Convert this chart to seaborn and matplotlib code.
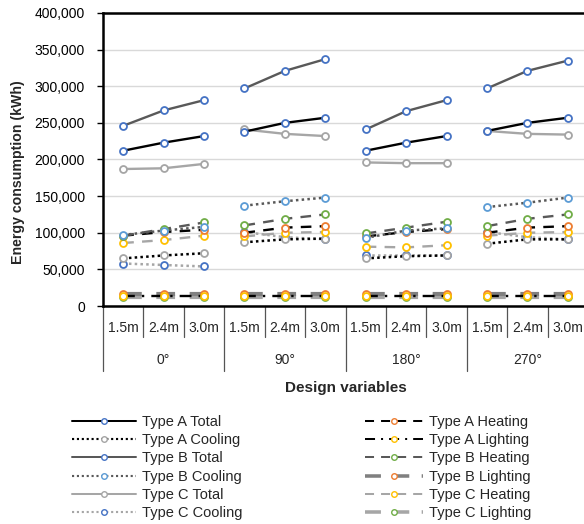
import matplotlib

matplotlib.use("Agg")
import matplotlib.pyplot as plt
import matplotlib.transforms as mtransforms
import pandas as pd
import seaborn as sns
from matplotlib.lines import Line2D
from matplotlib.ticker import FuncFormatter

# ================================================================
# 0. Data
# ================================================================
heights = ["1.5m", "2.4m", "3.0m"]
orientations = ["0°", "90°", "180°", "270°"]

a_total = [212000, 223000, 232000, 238000, 250000, 257000, 212000, 223000, 232000, 239000, 250000, 257000]
a_cooling = [65000, 69000, 72000, 87000, 91000, 92000, 65000, 68000, 69000, 85000, 91000, 91000]
b_total = [246000, 267000, 281000, 297000, 321000, 337000, 241000, 266000, 281000, 297000, 321000, 335000]
b_cooling = [97000, 103000, 108000, 137000, 143000, 148000, 93000, 103000, 106000, 135000, 141000, 148000]
c_total = [187000, 188000, 194000, 241000, 235000, 232000, 196000, 195000, 195000, 239000, 235000, 234000]
c_cooling = [58000, 56000, 54000, 101000, 94000, 91000, 70000, 70000, 70000, 101000, 94000, 91000]
a_heating = [96000, 101000, 104000, 100000, 107000, 109000, 95000, 101000, 105000, 100000, 107000, 109000]
a_lighting = [14000, 14000, 14000, 14000, 14000, 14000, 14000, 14000, 14000, 14000, 14000, 14000]
b_heating = [96000, 105000, 114000, 110000, 119000, 125000, 99000, 107000, 115000, 109000, 119000, 125000]
b_lighting = [17000, 17000, 17000, 17000, 17000, 17000, 17000, 17000, 17000, 17000, 17000, 17000]
c_heating = [86000, 90000, 96000, 95000, 100000, 101000, 81000, 80000, 83000, 96000, 100000, 101000]
c_lighting = [12000, 12000, 12000, 12000, 12000, 12000, 12000, 12000, 12000, 12000, 12000, 12000]

series_values = {
    "Type A Total": a_total,
    "Type A Cooling": a_cooling,
    "Type B Total": b_total,
    "Type B Cooling": b_cooling,
    "Type C Total": c_total,
    "Type C Cooling": c_cooling,
    "Type A Heating": a_heating,
    "Type A Lighting": a_lighting,
    "Type B Heating": b_heating,
    "Type B Lighting": b_lighting,
    "Type C Heating": c_heating,
    "Type C Lighting": c_lighting,
}

# ================================================================
# 1. Styles
# ================================================================
BLACK, DGREY, LGREY, MGREY = "#000000", "#595959", "#a6a6a6", "#808080"
BLUE, LBLUE, GREY, ORANGE, YELLOW, GREEN = "#4472c4", "#5b9bd5", "#a5a5a5", "#ed7d31", "#ffc000", "#70ad47"

DOT = (0, (1, 1.3))
DASH = (0, (4.5, 3.5))
DASHDOT = (0, (5, 3, 1, 3))
THICK = (0, (4.5, 3.5))

styles = {
    "Type A Total": dict(color=BLACK, ls="-", lw=1.7, mec=BLUE),
    "Type A Cooling": dict(color=BLACK, ls=DOT, lw=1.8, mec=GREY),
    "Type B Total": dict(color=DGREY, ls="-", lw=1.7, mec=BLUE),
    "Type B Cooling": dict(color=DGREY, ls=DOT, lw=1.8, mec=LBLUE),
    "Type C Total": dict(color=LGREY, ls="-", lw=1.7, mec=GREY),
    "Type C Cooling": dict(color=LGREY, ls=DOT, lw=1.8, mec=BLUE),
    "Type A Heating": dict(color=BLACK, ls=DASH, lw=1.7, mec=ORANGE),
    "Type A Lighting": dict(color=BLACK, ls=DASHDOT, lw=1.7, mec=YELLOW),
    "Type B Heating": dict(color=DGREY, ls=DASH, lw=1.7, mec=GREEN),
    "Type B Lighting": dict(color=MGREY, ls=THICK, lw=3.0, mec=ORANGE),
    "Type C Heating": dict(color=LGREY, ls=DASH, lw=1.7, mec=YELLOW),
    "Type C Lighting": dict(color=LGREY, ls=THICK, lw=3.0, mec=GREEN),
}

# ================================================================
# 2. Long table
# ================================================================
rows = []
for name, vals in series_values.items():
    for i, v in enumerate(vals):
        rows.append({"series": name, "pos": i, "group": orientations[i // 3], "value": v})
df = pd.DataFrame(rows)

# ================================================================
# 3. Plot
# ================================================================
sns.set_style("white")
plt.rcParams["font.family"] = ["Liberation Sans", "DejaVu Sans"]

W, H = 584, 524
fig = plt.figure(figsize=(W / 100, H / 100), dpi=100)
ax = fig.add_axes([103 / W, 1 - 306 / H, 485 / W, 293 / H])

draw_order = [
    "Type C Lighting", "Type B Lighting", "Type A Lighting",
    "Type C Cooling", "Type A Cooling", "Type C Heating", "Type A Heating",
    "Type B Heating", "Type B Cooling",
    "Type C Total", "Type A Total", "Type B Total",
]
for name in draw_order:
    st = styles[name]
    sns.lineplot(
        data=df[df["series"] == name], x="pos", y="value", units="group", estimator=None,
        sort=False, ax=ax, legend=False, color=st["color"], linestyle=st["ls"], linewidth=st["lw"],
        marker="o", markersize=5, markerfacecolor="white", markeredgecolor=st["mec"],
        markeredgewidth=1.3, dash_capstyle="butt",
    )

ax.set_xlim(-0.5, 11.5)
ax.set_ylim(0, 400000)
ax.set_yticks(range(0, 400001, 50000))
ax.yaxis.set_major_formatter(FuncFormatter(lambda v, p: f"{int(v):,}"))
ax.tick_params(axis="y", left=True, length=4, width=1, pad=9, labelsize=10, colors="#000000")
ax.set_xticks([])
ax.set_xlabel("")
ax.set_ylabel("")
ax.grid(axis="y", color="#d9d9d9", lw=1)
ax.set_axisbelow(True)

for side in ["left", "bottom", "top"]:
    ax.spines[side].set_color("black")
    ax.spines[side].set_linewidth(1.8)
ax.spines["right"].set_visible(False)

# two-level category axis
trans = mtransforms.blended_transform_factory(ax.transData, ax.transAxes)
minor_y = -(337 - 306) / 293
major_y = -(371 - 306) / 293
for k in range(13):
    x = k - 0.5
    y_end = major_y if k % 3 == 0 else minor_y
    ax.plot([x, x], [0, y_end], color="#555555", lw=0.9, transform=trans, clip_on=False)
for i in range(12):
    ax.text(i, -(328 - 306) / 293, heights[i % 3], transform=trans, ha="center", va="center", fontsize=10)
for g, lab in enumerate(orientations):
    ax.text(g * 3 + 1, -(360 - 306) / 293, lab, transform=trans, ha="center", va="center", fontsize=10)
ax.text(0.5, -(388 - 306) / 293, "Design variables", transform=ax.transAxes, ha="center", va="center",
        fontsize=11, fontweight="bold")

fig.text(18 / W, 1 - 172 / H, "Energy consumption (kWh)", rotation=90, ha="center", va="center",
         fontsize=10.2, fontweight="bold")

# ================================================================
# 4. Legend
# ================================================================
def make_handle(name):
    st = styles[name]
    return Line2D([], [], color=st["color"], linestyle=st["ls"], linewidth=st["lw"] * 0.85, marker="o",
                  markersize=4, markerfacecolor="white", markeredgecolor=st["mec"], markeredgewidth=1.0,
                  dash_capstyle="butt")


left_names = ["Type A Total", "Type A Cooling", "Type B Total", "Type B Cooling", "Type C Total", "Type C Cooling"]
right_names = ["Type A Heating", "Type A Lighting", "Type B Heating", "Type B Lighting", "Type C Heating",
               "Type C Lighting"]

leg_kw = dict(loc="upper left", frameon=False, fontsize=10.5, borderpad=0, borderaxespad=0, labelspacing=0.29,
              numpoints=1, handletextpad=0.4)
fig.legend([make_handle(n) for n in left_names], left_names, bbox_to_anchor=(72 / W, 1 - 415 / H),
           handlelength=4.4, **leg_kw)
fig.legend([make_handle(n) for n in right_names], right_names, bbox_to_anchor=(365 / W, 1 - 415 / H),
           handlelength=4.0, **leg_kw)

fig.savefig("out.png", dpi=100)
plt.close(fig)
